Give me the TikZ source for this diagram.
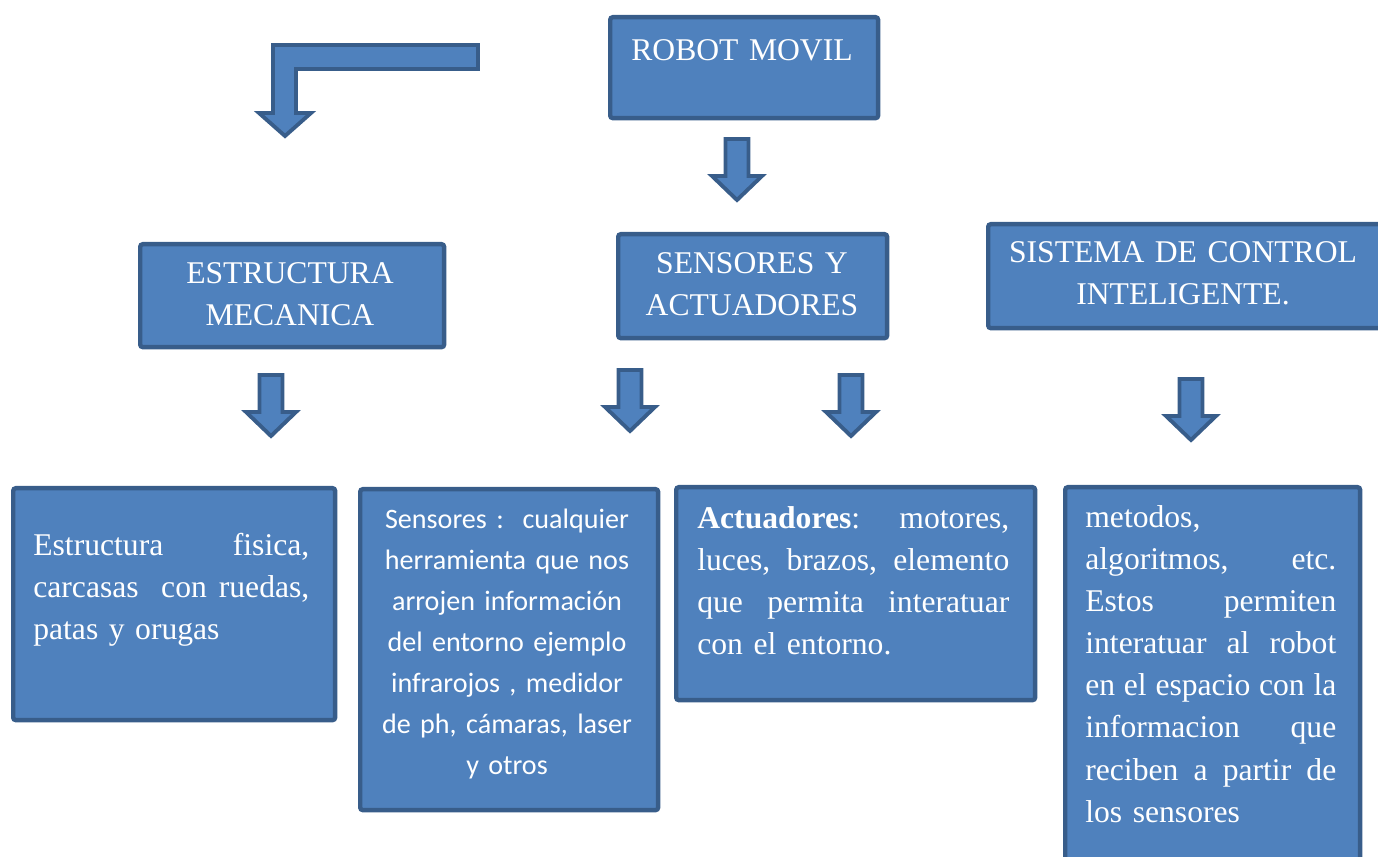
\documentclass[tikz,border=0pt]{standalone}
\usepackage{fontspec}
\setmainfont{Liberation Serif}
\newfontfamily\calfont{Carlito}

\definecolor{boxfill}{HTML}{4F81BD}
\definecolor{boxline}{HTML}{385D8A}

\newcommand{\fullline}[1]{\makebox[\linewidth][s]{#1}}

\begin{document}
\begin{tikzpicture}[x=0.02cm, y=-0.02cm,
        bluebox/.style={draw=boxline, fill=boxfill, line width=2.5pt, rounded corners=1.5pt, inner sep=0pt, anchor=north west},
        blockarrow/.style={draw=boxline, fill=boxfill, line width=2.2pt},
        headtext/.style={text=white, inner sep=0pt, align=center, anchor=base, font=\fontsize{18}{23.5}\selectfont},
        bodytext/.style={text=white, inner sep=0pt, align=left, anchor=base west, font=\fontsize{18}{24}\selectfont}]

        \path[use as bounding box, clip] (0,0) rectangle (1378,857);

        % top row
        \node[bluebox, minimum width=5.36cm, minimum height=2.02cm] (RobotMovil) at (608,15) {};
        \node[headtext, text width=5cm] (RobotMovilText) at (742,61) {ROBOT MOVIL};

        % middle row
        \node[bluebox, minimum width=6.08cm, minimum height=2.06cm] (EstructuraMec) at (138,242) {};
        \node[headtext, text width=5.8cm] (EstructuraMecText) at (290,284) {ESTRUCTURA\\ MECANICA};

        \node[bluebox, minimum width=5.38cm, minimum height=2.08cm] (SensAct) at (616,232) {};
        \node[headtext, text width=5.2cm] (SensActText) at (752,274) {SENSORES Y\\ ACTUADORES};

        \node[bluebox, minimum width=7.92cm, minimum height=2.08cm] (ControlInt) at (986,222) {};
        \node[headtext, text width=7.6cm] (ControlIntText) at (1183,263) {SISTEMA DE CONTROL\\ INTELIGENTE.};

        % bottom row
        \node[bluebox, minimum width=6.44cm, minimum height=4.64cm] (FisicaBox) at (11,486) {};
        \node[bodytext, text width=5.52cm] (FisicaText) at (33,555) {\fullline{Estructura\hfill fisica,}\\ \fullline{carcasas \ \hfill con \hfill ruedas,}\\ patas y orugas};

        \node[bluebox, minimum width=5.96cm, minimum height=6.42cm] (SensoresBox) at (358,487) {};
        \node[text=white, inner sep=0pt, align=center, text width=5.7cm, anchor=base, font=\calfont\fontsize{16}{23.4}\selectfont] (SensoresText) at (507,528) {Sensores :\ \ cualquier\\ herramienta que nos\\ arrojen información\\ del entorno ejemplo\\ infrarojos , medidor\\ de ph, cámaras, laser\\ y otros};

        \node[bluebox, minimum width=7.18cm, minimum height=4.26cm] (ActuadoresBox) at (674,485) {};
        \node[bodytext, text width=6.24cm] (ActuadoresText) at (697,528) {\fullline{\textbf{Actuadores}:\hfill motores,}\\ \fullline{luces, \hfill brazos, \hfill elemento}\\ \fullline{que \hfill permita \hfill interatuar}\\ con el entorno.};

        \node[bluebox, minimum width=5.9cm, minimum height=8cm] (MetodosBox) at (1063,485) {};
        \node[bodytext, text width=5.02cm] (MetodosText) at (1085,527) {metodos,\\ \fullline{algoritmos,\hfill etc.}\\ \fullline{Estos\hfill permiten}\\ \fullline{interatuar \hfill al \hfill robot}\\ \fullline{en\hfill el\hfill espacio\hfill con\hfill la}\\ \fullline{informacion\hfill que}\\ \fullline{reciben \hfill a \hfill partir \hfill de}\\ los sensores};

        % block arrows
        \foreach \c/\t in {737/137, 271/373, 630/368, 851/373, 1191/377}
            \draw[blockarrow] (\c-11.5,\t+2) -- (\c+11.5,\t+2) -- (\c+11.5,\t+39) -- (\c+25,\t+39) -- (\c,\t+63) -- (\c-25,\t+39) -- (\c-11.5,\t+39) -- cycle;

        \draw[blockarrow] (273,45) -- (478,45) -- (478,69) -- (296,69) -- (296,113) -- (311,113) -- (285,136) -- (259,113) -- (273,113) -- cycle;
\end{tikzpicture}
\end{document}
